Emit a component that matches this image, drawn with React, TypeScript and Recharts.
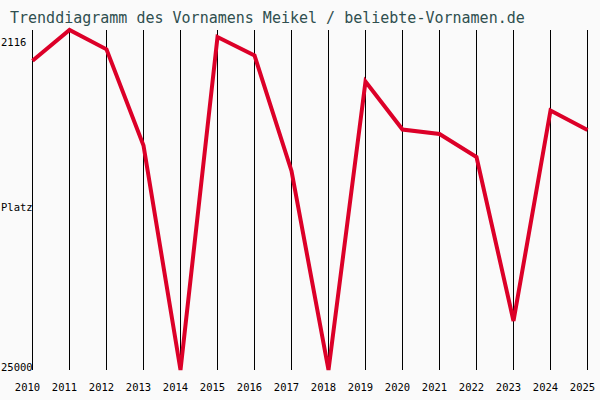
import { LineChart, Line, XAxis, YAxis, CartesianGrid } from 'recharts'

const YEARS = [2010, 2011, 2012, 2013, 2014, 2015, 2016, 2017, 2018, 2019, 2020, 2021, 2022, 2023, 2024, 2025]
// Platz (rank) per year
const RANKS = [4180, 2116, 3415, 9890, 25000, 2587, 3832, 11606, 25000, 5582, 8813, 9116, 10664, 21702, 7534, 8847]
const RANK_TOP = 2116
const RANK_BOTTOM = 25000
const Y_TICKS = [RANK_TOP, (RANK_TOP + RANK_BOTTOM) / 2, RANK_BOTTOM]
const Y_LABELS = ['2116', 'Platz', '25000']

const TITLE = 'Trenddiagramm des Vornamens Meikel / beliebte-Vornamen.de'

const data = YEARS.map((year, i) => ({ year, rank: RANKS[i] }))

const FONT = '"DejaVu Sans Mono", "Liberation Mono", monospace'

function XTick({ x, y, payload }: any) {
  return (
    <text x={x - 5} y={y + 21} textAnchor="middle" fontFamily={FONT} fontSize={10.5} fill="#000">
      {payload.value}
    </text>
  )
}

function YTick({ y, index }: any) {
  const dy = index === 0 ? 16 : index === 1 ? 11 : 0.5
  return (
    <text x={1} y={y + dy} textAnchor="start" fontFamily={FONT} fontSize={10.5} fill="#000">
      {Y_LABELS[index]}
    </text>
  )
}

export default function App() {
  return (
    <div style={{ position: 'absolute', left: 0, top: 0, width: 600, height: 400, background: '#fafafa' }}>
      <LineChart width={600} height={400} data={data} margin={{ top: 30, right: 12.5, left: 0.5, bottom: 0 }}>
        <CartesianGrid horizontal={false} stroke="#000" strokeWidth={1} />
        <XAxis
          dataKey="year"
          type="number"
          domain={[2010, 2025]}
          ticks={YEARS}
          interval={0}
          axisLine={false}
          tickLine={false}
          tickSize={0}
          tickMargin={0}
          height={30}
          tick={<XTick />}
        />
        <YAxis
          type="number"
          domain={[RANK_TOP, RANK_BOTTOM]}
          reversed
          ticks={Y_TICKS}
          interval={0}
          axisLine={false}
          tickLine={false}
          tickSize={0}
          width={32}
          tick={<YTick />}
        />
        <Line
          type="linear"
          dataKey="rank"
          stroke="#dc0028"
          strokeWidth={4}
          dot={false}
          activeDot={false}
          isAnimationActive={false}
        />
      </LineChart>
      <svg width={600} height={30} style={{ position: 'absolute', left: 0, top: 0 }}>
        <text x={10} y={23} fontFamily='"DejaVu Sans Mono", monospace' fontSize={15} fill="#2f4f4f">
          {TITLE}
        </text>
      </svg>
    </div>
  )
}
